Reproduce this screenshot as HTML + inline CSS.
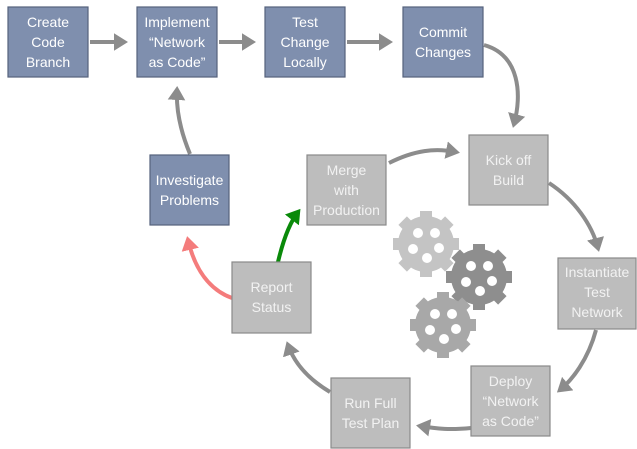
<!DOCTYPE html>
<html><head><meta charset="utf-8"><style>
html,body{margin:0;padding:0;background:#fff;}
svg{display:block;font-family:"Liberation Sans",sans-serif;}
.b{fill:#7f8fae;stroke:#55627c;stroke-width:1.2}
.g{fill:#bdbdbd;stroke:#8a8a8a;stroke-width:1.2}
text{fill:#fff;font-size:14px;text-anchor:middle}
.gt{fill:#f2f2f2}
.a{fill:none;stroke:#8c8c8c;stroke-width:4}
</style></head><body>
<svg width="637" height="449" viewBox="0 0 637 449">
<defs>
<marker id="ah" markerWidth="5" markerHeight="5" refX="2.5" refY="2.5" orient="auto" markerUnits="strokeWidth"><path d="M0,0.3 L3.5,2.5 L0,4.7z" fill="#8c8c8c"/></marker>
<marker id="ahg" markerWidth="5" markerHeight="5" refX="2.5" refY="2.5" orient="auto" markerUnits="strokeWidth"><path d="M0,0.3 L3.5,2.5 L0,4.7z" fill="#0a8a0a"/></marker>
<marker id="ahr" markerWidth="5" markerHeight="5" refX="2.5" refY="2.5" orient="auto" markerUnits="strokeWidth"><path d="M0,0.3 L3.5,2.5 L0,4.7z" fill="#f47c7c"/></marker>
<g id="gear">
<rect x="-6" y="-33" width="12" height="66"/>
<rect x="-6" y="-33" width="12" height="66" transform="rotate(45)"/>
<rect x="-6" y="-33" width="12" height="66" transform="rotate(90)"/>
<rect x="-6" y="-33" width="12" height="66" transform="rotate(135)"/>
<circle r="28"/>
</g>
<g id="holes" fill="#fff"><circle cx="-8" cy="-11" r="5"/><circle cx="9" cy="-11" r="5"/><circle cx="-13" cy="5" r="5"/><circle cx="13" cy="4" r="5"/><circle cx="1" cy="14" r="5"/></g>
</defs>
<path class="a" d="M90,42 L124,42" marker-end="url(#ah)"/>
<path class="a" d="M219,42 L252,42" marker-end="url(#ah)"/>
<path class="a" d="M347,42 L389,42" marker-end="url(#ah)"/>
<path class="a" d="M484,45 C520,55 522,95 514,124" marker-end="url(#ah)"/>
<path class="a" d="M190,154 C180,130 176,110 177,90" marker-end="url(#ah)"/>
<path class="a" d="M389,163 C415,150 435,148 456,152" marker-end="url(#ah)"/>
<path class="a" d="M549,183 C575,200 592,225 598,248" marker-end="url(#ah)"/>
<path class="a" d="M596,330 C588,360 572,380 560,390" marker-end="url(#ah)"/>
<path class="a" d="M471,428 C450,430 438,429 420,426" marker-end="url(#ah)"/>
<path class="a" d="M330,392 C310,380 295,365 288,345" marker-end="url(#ah)"/>
<path d="M278,262 C282,245 288,225 298,212" fill="none" stroke="#0a8a0a" stroke-width="4" marker-end="url(#ahg)"/>
<path d="M232,298 C210,290 195,270 188,240" fill="none" stroke="#f47c7c" stroke-width="4" marker-end="url(#ahr)"/>
<g fill="#c4c4c4" transform="translate(426,244)"><use href="#gear"/><use href="#holes"/></g>
<g fill="#8e8e8e" transform="translate(479,277)"><use href="#gear"/><use href="#holes"/></g>
<g fill="#a8a8a8" transform="translate(443,325)"><use href="#gear"/><use href="#holes"/></g>
<rect class="b" x="8" y="7" width="80" height="70"/>
<text x="48" y="27">Create</text><text x="48" y="47">Code</text><text x="48" y="67">Branch</text>
<rect class="b" x="137" y="7" width="80" height="70"/>
<text x="177" y="27">Implement</text><text x="177" y="47">“Network</text><text x="177" y="67">as Code”</text>
<rect class="b" x="265" y="7" width="80" height="70"/>
<text x="305" y="27">Test</text><text x="305" y="47">Change</text><text x="305" y="67">Locally</text>
<rect class="b" x="403" y="7" width="80" height="70"/>
<text x="443" y="37">Commit</text><text x="443" y="57">Changes</text>
<rect class="b" x="150" y="155" width="79" height="70"/>
<text x="189.5" y="185">Investigate</text><text x="189.5" y="205">Problems</text>
<rect class="g" x="469" y="135" width="79" height="70"/>
<text class="gt" x="508.5" y="165">Kick off</text><text class="gt" x="508.5" y="185">Build</text>
<rect class="g" x="307" y="155" width="79" height="70"/>
<text class="gt" x="346.5" y="175">Merge</text><text class="gt" x="346.5" y="195">with</text><text class="gt" x="346.5" y="215">Production</text>
<rect class="g" x="232" y="262" width="79" height="71"/>
<text class="gt" x="271.5" y="292">Report</text><text class="gt" x="271.5" y="312">Status</text>
<rect class="g" x="558" y="258" width="78" height="71"/>
<text class="gt" x="597" y="277">Instantiate</text><text class="gt" x="597" y="297">Test</text><text class="gt" x="597" y="317">Network</text>
<rect class="g" x="471" y="366" width="79" height="70"/>
<text class="gt" x="510.5" y="386">Deploy</text><text class="gt" x="510.5" y="406">“Network</text><text class="gt" x="510.5" y="426">as Code”</text>
<rect class="g" x="331" y="378" width="79" height="70"/>
<text class="gt" x="370.5" y="408">Run Full</text><text class="gt" x="370.5" y="428">Test Plan</text>
</svg>
</body></html>
